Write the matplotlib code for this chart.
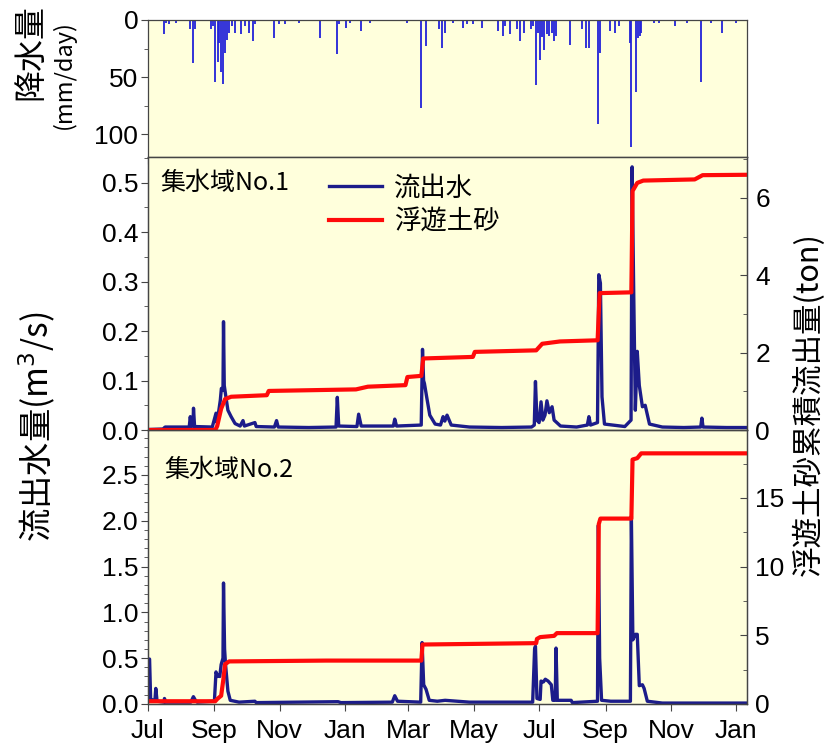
import numpy as np
import pandas as pd
import matplotlib
matplotlib.use("Agg")
import matplotlib.pyplot as plt
import matplotlib.dates as mdates
from matplotlib.ticker import MultipleLocator
from matplotlib.lines import Line2D

plt.rcParams['font.family'] = ['Liberation Sans', 'Noto Sans CJK JP']

# start of the record; every x value below is "days since START"
START = pd.Timestamp('2010-07-01')
END_DAY = 559

# daily rainfall (mm/day)
rain_day = [15, 17, 20, 26, 39, 42, 44, 59, 61, 63, 65, 66, 68, 70, 72, 74, 76, 78,
            81, 87, 91, 94, 98, 100, 118, 122, 128, 141, 161, 176, 178, 185, 189,
            199, 207, 229, 242, 255, 259, 272, 274, 277, 285, 294, 298, 303, 312,
            327, 331, 333, 338, 344, 347, 351, 357, 359, 362, 364, 366, 368, 370,
            372, 374, 377, 379, 381, 394, 405, 409, 412, 420, 422, 431, 436, 440,
            450, 451, 455, 457, 459, 460, 472, 477, 492, 503, 516, 525, 536, 549]
rain_mm = [12.7, 3, 3.8, 2.4, 8.3, 37.9, 8.3, 8, 5, 54.1, 36.4, 20, 45.3, 56.2, 29.0,
           17.2, 11.2, 5.3, 11.2, 12.7, 5.3, 11.2, 18.6, 3.8, 15.7, 3.8, 3.8, 3.0,
           15.7, 29.6, 3.8, 6.8, 2.4, 9.8, 3.0, 0.9, 2.4, 76.9, 22.5, 8.3, 24.6,
           11.2, 2.4, 6.8, 3.8, 3.8, 6.8, 9.8, 14.2, 5.3, 12.7, 8.3, 18.6, 11.2,
           8.3, 5.3, 57.1, 11.2, 34.9, 15, 26.0, 12, 14.2, 11.2, 18.6, 14.2, 21.6,
           8.3, 24.6, 24.6, 91.1, 29, 9.8, 11.2, 5.3, 20.1, 111.2, 63.0, 15.7, 14.2,
           11.2, 2.4, 2.4, 5.3, 2.4, 54.1, 2.4, 11.2, 2.4]

# catchment No.1 discharge (m3/s)
q1_day = [0, 14, 16, 38.5, 39.5, 40.5, 42, 42.5, 43.5, 60,
          63.5, 64.5, 67.5, 68.5, 70, 70.5, 71.2, 72, 74.6, 77.6,
          81.3, 86, 88.7, 90, 99.8, 101, 118, 120, 121.5, 150,
          175.5, 176.7, 178, 195, 196.6, 199, 229, 230.3, 232, 255,
          256.2, 257.2, 258, 260.3, 263, 268, 273, 275.4, 277, 279.1,
          283, 300, 330, 358, 360.5, 361.6, 363, 365, 366.8, 368.5,
          370.5, 372.3, 374.5, 377.1, 379, 385, 400, 410, 411.5, 413,
          419.5, 420.7, 422.2, 423.7, 426, 445, 450.8, 451.8, 453.3, 454.8,
          456.6, 458.5, 461.4, 464, 468, 480, 500, 515.8, 516.9, 518,
          540, 559]
q1_flow = [0.001, 0.002, 0.006, 0.006, 0.027, 0.007, 0.008, 0.044, 0.007, 0.006,
           0.034, 0.015, 0.06, 0.084, 0.08, 0.219, 0.09, 0.078, 0.04, 0.027,
           0.013, 0.008, 0.019, 0.008, 0.015, 0.007, 0.006, 0.019, 0.006, 0.005,
           0.006, 0.066, 0.008, 0.007, 0.032, 0.008, 0.008, 0.022, 0.008, 0.01,
           0.163, 0.1, 0.094, 0.064, 0.03, 0.012, 0.01, 0.027, 0.018, 0.030,
           0.01, 0.006, 0.005, 0.006, 0.01, 0.098, 0.02, 0.015, 0.057, 0.02,
           0.03, 0.059, 0.035, 0.047, 0.02, 0.008, 0.006, 0.01, 0.027, 0.01,
           0.015, 0.314, 0.297, 0.067, 0.012, 0.007, 0.02, 0.532, 0.277, 0.04,
           0.159, 0.09, 0.047, 0.05, 0.012, 0.006, 0.005, 0.006, 0.024, 0.006,
           0.005, 0.005]

# catchment No.1 cumulative suspended sediment (ton)
s1_day = [0, 62.8, 64.6, 68.3, 72.0, 77.6, 110.9, 112.7, 194.1, 205.2, 240.3, 242.1,
          255.1, 256.9, 303.2, 305.0, 362.3, 367.9, 384.5, 419.6, 421.5, 451.1,
          452.2, 456.6, 462.2, 510.2, 517.6, 559]
s1_ton = [0.0, 0.0, 0.1, 0.55, 0.8, 0.86, 0.9, 1.01, 1.05, 1.12, 1.16, 1.37,
          1.4, 1.85, 1.89, 2.02, 2.06, 2.23, 2.29, 2.32, 3.54, 3.56,
          6.18, 6.39, 6.45, 6.48, 6.59, 6.6]

# catchment No.2 discharge (m3/s)
q2_day = [0, 1.5, 2.5, 6.5, 7.3, 8.5, 15, 15.4, 16.5, 40,
          42.4, 44.3, 46, 62, 63.5, 65, 65.7, 67, 68.3, 70,
          70.5, 71.5, 72.4, 74.6, 76.8, 85, 99.8, 101, 177.4, 180,
          228, 230.3, 232.9, 254.5, 255.8, 257.3, 259.5, 262.5, 270, 277.3,
          300, 359, 360.8, 361.6, 363, 366, 366.8, 369, 370.8, 373.4,
          376.4, 377.8, 380, 380.8, 382, 394.9, 396, 419.5, 420.3, 421.5,
          423.3, 431.8, 450.2, 451.1, 452.5, 454.8, 456.6, 458.5, 461.4, 463,
          466, 480, 559]
q2_flow = [0.49, 0.49, 0.05, 0.04, 0.17, 0.03, 0.02, 0.06, 0.02, 0.02,
           0.08, 0.04, 0.02, 0.03, 0.35, 0.30, 0.32, 0.3, 0.43, 0.5,
           1.32, 0.6, 0.43, 0.14, 0.04, 0.02, 0.03, 0.015, 0.025, 0.015,
           0.02, 0.09, 0.03, 0.02, 0.67, 0.21, 0.16, 0.04, 0.03, 0.04,
           0.02, 0.02, 0.6, 0.63, 0.06, 0.05, 0.25, 0.24, 0.27, 0.25,
           0.21, 0.04, 0.04, 0.61, 0.04, 0.04, 0.015, 0.03, 1.95, 0.5,
           0.04, 0.03, 0.03, 2.05, 0.7, 0.76, 0.76, 0.2, 0.21, 0.17,
           0.03, 0.01, 0.01]

# catchment No.2 cumulative suspended sediment (ton)
s2_day = [0, 62.8, 64.6, 68.3, 70.2, 72.0, 75.7, 166.3, 255.1, 256.2, 362.3, 363.0,
          366.0, 379.0, 381.6, 419.6, 420.7, 422.2, 451.1, 452.2, 456.6, 460.3, 559]
s2_ton = [0.2, 0.2, 0.36, 0.6, 1.7, 2.9, 3.1, 3.16, 3.16, 4.33, 4.43, 4.74,
          4.87, 4.96, 5.16, 5.16, 13.1, 13.5, 13.5, 17.8, 17.9, 18.25, 18.25]


def to_dates(days):
    return START + pd.to_timedelta(np.array(days, dtype=float), unit='D')


BG = '#FFFFDC'
RAIN_C = '#2222D8'
FLOW_C = '#1C1C8A'
SED_C = '#FF0A0A'
SPINE_C = '#454545'
CJK = ['Noto Sans CJK JP', 'DejaVu Sans']
TICK_FS = 19

fig = plt.figure(figsize=(8.35, 7.49), dpi=100)
L, W = 0.1772, 0.7174
ax0 = fig.add_axes([L, 0.7904, W, 0.1829])
ax1 = fig.add_axes([L, 0.4259, W, 0.3645], sharex=ax0)
ax2 = fig.add_axes([L, 0.0601, W, 0.3658], sharex=ax0)
ax1r = ax1.twinx()
ax2r = ax2.twinx()

for ax in (ax0, ax1, ax2):
    ax.set_facecolor(BG)

# rainfall
ax0.vlines(to_dates(rain_day), 0, rain_mm, color=RAIN_C, lw=1.3)
ax0.set_ylim(120, 0)
ax0.yaxis.set_major_locator(MultipleLocator(50))
ax0.yaxis.set_minor_locator(MultipleLocator(25))

# catchment 1
ax1.plot(to_dates(q1_day), q1_flow, color=FLOW_C, lw=2.4)
ax1r.plot(to_dates(s1_day), s1_ton, color=SED_C, lw=3)
ax1.set_ylim(0, 0.552)
ax1.yaxis.set_major_locator(MultipleLocator(0.1))
ax1.yaxis.set_minor_locator(MultipleLocator(0.05))
ax1r.set_ylim(0, 7.06)
ax1r.yaxis.set_major_locator(MultipleLocator(2))
ax1r.yaxis.set_minor_locator(MultipleLocator(1))

# catchment 2
ax2.plot(to_dates(q2_day), q2_flow, color=FLOW_C, lw=2.4)
ax2r.plot(to_dates(s2_day), s2_ton, color=SED_C, lw=3)
ax2.set_ylim(0, 2.99)
ax2.yaxis.set_major_locator(MultipleLocator(0.5))
ax2.yaxis.set_minor_locator(MultipleLocator(0.1))
ax2r.set_ylim(0, 19.95)
ax2r.yaxis.set_major_locator(MultipleLocator(5))
ax2r.yaxis.set_minor_locator(MultipleLocator(2.5))

ax0.set_xlim(START, START + pd.Timedelta(days=END_DAY))
ax2.xaxis.set_major_locator(mdates.MonthLocator(bymonth=[1, 3, 5, 7, 9, 11]))
ax2.xaxis.set_major_formatter(mdates.DateFormatter('%b'))

for ax in (ax0, ax1, ax2, ax1r, ax2r):
    for sp in ax.spines.values():
        sp.set_color(SPINE_C)
        sp.set_linewidth(0.9)
for ax in (ax0, ax1, ax2):
    ax.tick_params(axis='both', which='both', direction='out', color=SPINE_C,
                   labelsize=TICK_FS, right=False, pad=2)
    ax.tick_params(which='major', length=5)
    ax.tick_params(which='minor', length=3)
for ax in (ax1r, ax2r):
    ax.tick_params(axis='y', which='both', direction='in', color=SPINE_C,
                   labelsize=TICK_FS, pad=6)
    ax.tick_params(which='major', length=5)
    ax.tick_params(which='minor', length=3)
ax0.tick_params(labelbottom=False)
ax1.tick_params(labelbottom=False)
ax2.tick_params(axis='x', pad=6)

# panel labels
ax1.text(0.02, 0.905, '集水域No.1', transform=ax1.transAxes, fontsize=18,
         family=CJK, va='center', ha='left')
ax2.text(0.027, 0.855, '集水域No.2', transform=ax2.transAxes, fontsize=18,
         family=CJK, va='center', ha='left')

handles = [Line2D([], [], color=FLOW_C, lw=2.4), Line2D([], [], color=SED_C, lw=3)]
ax1r.legend(handles, ['流出水', '浮遊土砂'], loc='upper left',
            bbox_to_anchor=(0.28, 0.985), frameon=False, borderpad=0,
            handlelength=2.0, handletextpad=0.45, labelspacing=0.25,
            prop={'family': CJK, 'size': 19})

# axis titles
fig.text(0.036, 0.93, '降水量', rotation=90, fontsize=23, family=CJK,
         ha='center', va='center')
fig.text(0.076, 0.90, '(mm/day)', rotation=90, fontsize=17, family=CJK,
         ha='center', va='center')
fig.text(0.045, 0.43, '流出水量(m$^3$/s)', rotation=90, fontsize=24, family=CJK,
         ha='center', va='center')
fig.text(0.968, 0.46, '浮遊土砂累積流出量(ton)', rotation=90, fontsize=22,
         family=CJK, ha='center', va='center')

fig.savefig('out.png', dpi=100)
